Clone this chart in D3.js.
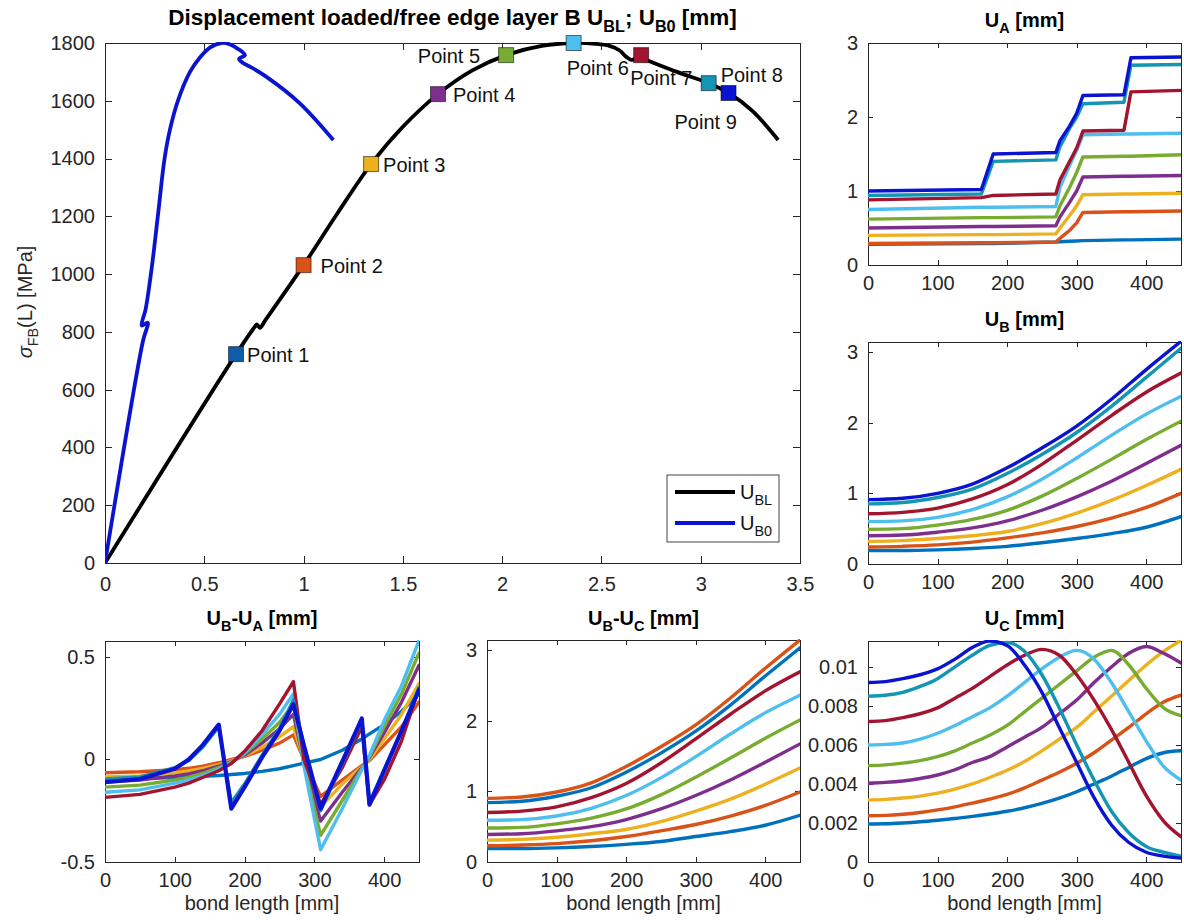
<!DOCTYPE html>
<html><head><meta charset="utf-8">
<script src="https://cdn.jsdelivr.net/npm/d3@7"></script>
<style>
body{margin:0;background:#fff}
text{font-family:"Liberation Sans",Arial,Helvetica,sans-serif}
</style>
</head><body>
<svg id="c" width="1184" height="920"></svg>
<script>
// ---------------- DATA ----------------
const mainXTicks = [0,0.5,1,1.5,2,2.5,3,3.5];
const mainYTicks = [0,200,400,600,800,1000,1200,1400,1600,1800];
const ublX = [0,0.66,0.755,0.765,0.78,0.81,1.0,1.17,1.34,1.50,1.677,1.85,2.02,2.20,2.36,2.47,2.54,2.59,2.625,2.65,2.70,2.73,2.88,3.04,3.14,3.26,3.39];
const ublY = [0,723,818,826,814,843,1031,1210,1381,1510,1623,1705,1758,1790,1800,1797,1790,1775,1752,1742,1748,1740,1700,1661,1627,1565,1464];
const ub0X = [0,0.19,0.215,0.185,0.205,0.235,0.266,0.30,0.327,0.367,0.428,0.478,0.53,0.587,0.63,0.655,0.69,0.705,0.675,0.695,0.73,0.815,0.98,1.15];
const ub0Y = [0,765,832,822,880,1020,1200,1400,1500,1600,1700,1750,1785,1800,1795,1786,1770,1758,1745,1731,1718,1682,1592,1464];
const pointNames = ["Point 1","Point 2","Point 3","Point 4","Point 5","Point 6","Point 7","Point 8","Point 9"];
const pointX = [0.66,1.0,1.34,1.677,2.02,2.36,2.70,3.04,3.14];
const pointY = [723,1031,1381,1623,1758,1800,1758,1661,1627];

const bondTicks = [0,100,200,300,400];
const uaTicks = [0,1,2,3];
const ubTicks = [0,1,2,3];
const ubaTicks = [-0.5,0,0.5];
const ucTicks = [0,0.002,0.004,0.006,0.008,0.01];

const uaX = [0,163,180,270,276,290,300,309,368,378,450];
const uA = [
 [0.28,0.29,0.29,0.31,0.315,0.32,0.325,0.33,0.34,0.34,0.35],
 [0.29,0.30,0.30,0.31,0.36,0.47,0.57,0.71,0.72,0.72,0.73],
 [0.40,0.41,0.41,0.42,0.50,0.67,0.80,0.95,0.96,0.96,0.97],
 [0.50,0.52,0.52,0.53,0.65,0.85,1.00,1.19,1.20,1.20,1.21],
 [0.62,0.64,0.64,0.65,0.80,1.05,1.25,1.46,1.47,1.47,1.49],
 [0.75,0.78,0.78,0.79,1.05,1.35,1.55,1.76,1.77,1.77,1.78],
 [0.88,0.91,0.94,0.96,1.15,1.40,1.58,1.81,1.82,2.34,2.36],
 [0.94,0.96,1.40,1.42,1.60,1.85,2.00,2.18,2.20,2.70,2.71],
 [1.00,1.02,1.50,1.52,1.68,1.88,2.05,2.29,2.30,2.80,2.81]
];

const ubX = [0,50,100,150,200,250,300,350,400,450];
const uB = [
 [0.19,0.19,0.20,0.22,0.25,0.30,0.36,0.43,0.52,0.67],
 [0.24,0.25,0.27,0.31,0.37,0.44,0.53,0.65,0.80,1.00],
 [0.32,0.33,0.36,0.40,0.46,0.57,0.72,0.90,1.11,1.34],
 [0.40,0.41,0.45,0.51,0.61,0.76,0.95,1.17,1.42,1.68],
 [0.49,0.50,0.55,0.63,0.76,0.96,1.21,1.48,1.76,2.02],
 [0.60,0.61,0.66,0.77,0.95,1.20,1.50,1.82,2.12,2.37],
 [0.71,0.73,0.79,0.92,1.12,1.41,1.75,2.10,2.43,2.70],
 [0.85,0.87,0.94,1.06,1.28,1.55,1.86,2.23,2.64,3.05],
 [0.91,0.93,1.00,1.13,1.36,1.64,1.95,2.33,2.75,3.15]
];

const ubcX = [0,50,100,150,200,250,300,350,400,450];
const uBC = [
 [0.19,0.19,0.20,0.22,0.25,0.29,0.36,0.43,0.52,0.66],
 [0.23,0.24,0.26,0.30,0.36,0.44,0.53,0.65,0.80,0.99],
 [0.31,0.32,0.35,0.40,0.46,0.57,0.72,0.89,1.10,1.33],
 [0.39,0.40,0.44,0.50,0.60,0.75,0.94,1.16,1.41,1.67],
 [0.48,0.49,0.54,0.62,0.75,0.95,1.20,1.47,1.75,2.01],
 [0.59,0.60,0.65,0.76,0.94,1.19,1.49,1.81,2.11,2.36],
 [0.70,0.72,0.78,0.91,1.11,1.40,1.74,2.09,2.42,2.69],
 [0.84,0.86,0.93,1.05,1.27,1.54,1.85,2.22,2.63,3.03],
 [0.90,0.92,0.99,1.12,1.35,1.63,1.94,2.32,2.74,3.14]
];

const ubaX = [0,50,100,120,140,163,181,200,225,250,270,285,309,340,368,379,400,425,450];
const uBA = [
 [-0.095,-0.093,-0.088,-0.085,-0.082,-0.078,-0.073,-0.068,-0.058,-0.045,-0.03,-0.018,0.0,0.045,0.10,0.125,0.17,0.235,0.32],
 [-0.065,-0.06,-0.05,-0.043,-0.032,-0.016,0.0,0.015,0.045,0.08,0.12,0.0,-0.18,-0.10,-0.03,-0.005,0.07,0.16,0.28],
 [-0.085,-0.08,-0.065,-0.056,-0.043,-0.025,-0.005,0.018,0.06,0.11,0.16,-0.005,-0.23,-0.12,-0.035,0.0,0.10,0.22,0.37],
 [-0.11,-0.10,-0.08,-0.07,-0.055,-0.033,-0.01,0.022,0.08,0.15,0.22,-0.01,-0.30,-0.16,-0.04,0.01,0.13,0.28,0.46],
 [-0.135,-0.125,-0.10,-0.087,-0.068,-0.04,-0.012,0.028,0.10,0.18,0.27,-0.02,-0.37,-0.20,-0.045,0.015,0.16,0.32,0.52],
 [-0.16,-0.148,-0.115,-0.10,-0.08,-0.047,-0.015,0.032,0.12,0.22,0.32,-0.03,-0.44,-0.24,-0.05,0.02,0.19,0.36,0.58],
 [-0.185,-0.17,-0.135,-0.115,-0.088,-0.055,-0.02,0.04,0.14,0.27,0.38,0.0,-0.22,-0.04,0.16,-0.22,-0.10,0.09,0.35],
 [-0.095,-0.085,-0.04,-0.005,0.06,0.16,-0.21,-0.12,0.02,0.15,0.29,0.07,-0.25,-0.02,0.19,-0.21,-0.05,0.14,0.35],
 [-0.11,-0.095,-0.045,0.0,0.07,0.17,-0.24,-0.135,0.01,0.14,0.27,0.07,-0.24,-0.01,0.20,-0.22,-0.055,0.14,0.34]
];

const ucX = [0,25,50,75,100,125,150,175,200,225,250,275,300,325,350,375,400,425,450];
const uC = [
 [0.00195,0.00196,0.0020,0.00206,0.00214,0.00223,0.00234,0.00246,0.0026,0.00278,0.0030,0.00327,0.0036,0.0040,0.0044,0.00485,0.0053,0.0056,0.0057],
 [0.00237,0.00239,0.00245,0.00254,0.00267,0.00283,0.00302,0.00323,0.00347,0.0038,0.0042,0.0046,0.00506,0.0056,0.00625,0.0069,0.0076,0.0082,0.00855],
 [0.00318,0.00321,0.00328,0.00338,0.00353,0.00374,0.0040,0.00433,0.0047,0.00515,0.0057,0.0063,0.0069,0.0077,0.0085,0.0093,0.0101,0.0108,0.01135],
 [0.00404,0.00408,0.00415,0.00428,0.00446,0.00473,0.0051,0.0054,0.0059,0.0064,0.0069,0.0076,0.0083,0.0092,0.0100,0.0107,0.01105,0.0107,0.0102],
 [0.00494,0.00498,0.00507,0.0052,0.0054,0.0057,0.0061,0.0065,0.0070,0.0077,0.0084,0.0091,0.0098,0.0105,0.01085,0.0101,0.0089,0.0079,0.0075],
 [0.0060,0.00603,0.0061,0.0063,0.0066,0.0070,0.00745,0.0079,0.0085,0.0092,0.0099,0.0105,0.01085,0.0104,0.0092,0.0077,0.0062,0.0049,0.0042],
 [0.0072,0.00725,0.0074,0.0076,0.0079,0.0084,0.0089,0.0095,0.0101,0.0106,0.0109,0.0106,0.0096,0.0083,0.0068,0.0051,0.0034,0.0021,0.0013],
 [0.0085,0.00855,0.0087,0.0090,0.0094,0.0100,0.0106,0.0111,0.01125,0.0108,0.0096,0.0079,0.0060,0.0042,0.0026,0.0015,0.0008,0.0005,0.0003],
 [0.0092,0.00925,0.0094,0.0096,0.0099,0.0104,0.0110,0.01133,0.0111,0.0101,0.0087,0.0069,0.0051,0.0033,0.0019,0.0010,0.0005,0.0003,0.0002]
];

const seriesColors = ["#0072BD","#D95319","#EDB120","#7E2F8E","#77AC30","#4DBEEE","#A2142F","#1395B3","#0A14D0"];
const ubcColors = ["#0072BD","#D95319","#EDB120","#7E2F8E","#77AC30","#4DBEEE","#A2142F","#0072BD","#D95319"];
const pointColors = ["#0F5CAA","#D95319","#EDB120","#7E2F8E","#77AC30","#4DBEEE","#A2142F","#1395B3","#0A14D0"];

// label layout (offsets from marker centre, px)
const labelDx = [11,17,12,15,-26,-7,-11,12,-54];
const labelDy = [8,8,8,8,8,32,30,-1,36];
const labelAnchor = ["start","start","start","start","end","start","start","start","start"];

// ---------------- DRAW ----------------
const svg = d3.select("#c");
svg.append("rect").attr("width",1184).attr("height",920).attr("fill","#fff");
const AX = "#262626";
let clipN = 0;

function rich(sel, parts, size){
  let shift = 0;
  parts.forEach(p => {
    const sub = p[1] === 1, it = p[2] === 1;
    const want = sub ? size*0.32 : 0;
    const t = sel.append("tspan").attr("dy", want - shift)
      .attr("font-size", sub ? size*0.72 : size).text(p[0]);
    if (it) t.attr("font-style","italic");
    shift = want;
  });
}

function panel(p){
  const x = d3.scaleLinear().domain(p.xd).range([p.l,p.r]);
  const y = d3.scaleLinear().domain(p.yd).range([p.b,p.t]);
  const g = svg.append("g");
  const tl = p.tl, fs = p.fs;
  const style = s => {
    s.selectAll("path,line").attr("stroke",AX).attr("stroke-width",1).attr("shape-rendering","crispEdges");
    s.selectAll("text").attr("fill",AX).attr("font-size",fs).attr("font-family",null);
  };
  g.append("g").attr("transform",`translate(0,${p.b})`)
    .call(d3.axisBottom(x).tickValues(p.xt).tickSize(-tl).tickSizeOuter(0).tickPadding(p.xpad).tickFormat(d=>String(d))).call(style);
  g.append("g").attr("transform",`translate(0,${p.t})`)
    .call(d3.axisTop(x).tickValues(p.xt).tickSize(-tl).tickSizeOuter(0).tickFormat("")).call(style);
  g.append("g").attr("transform",`translate(${p.l},0)`)
    .call(d3.axisLeft(y).tickValues(p.yt).tickSize(-tl).tickSizeOuter(0).tickPadding(10).tickFormat(p.yf || (d=>String(d)))).call(style);
  g.append("g").attr("transform",`translate(${p.r},0)`)
    .call(d3.axisRight(y).tickValues(p.yt).tickSize(-tl).tickSizeOuter(0).tickFormat("")).call(style);
  const id = "clip" + (clipN++);
  svg.append("clipPath").attr("id",id).append("rect")
    .attr("x",p.l).attr("y",p.t-1).attr("width",p.r-p.l).attr("height",p.b-p.t+1);
  const lines = svg.append("g").attr("clip-path",`url(#${id})`);
  if (p.title){
    const t = svg.append("text").attr("x",(p.l+p.r)/2).attr("y",p.ty)
      .attr("text-anchor","middle").attr("font-weight","bold").attr("fill","#000");
    rich(t, p.title, p.tfs || 20);
  }
  if (p.xlabel){
    svg.append("text").attr("x",(p.l+p.r)/2).attr("y",p.xly).attr("text-anchor","middle")
      .attr("font-size",20).attr("fill",AX).text(p.xlabel);
  }
  return {x,y,lines};
}

function drawSeries(P, xs, rows, colors, curve, widths){
  rows.forEach((row,i)=>{
    const line = d3.line().x((d,j)=>P.x(xs[j])).y(d=>P.y(d)).curve(curve);
    P.lines.append("path").attr("d",line(row)).attr("fill","none")
      .attr("stroke",colors[i]).attr("stroke-width",widths ? widths[i] : 3.4)
      .attr("stroke-linejoin","round").attr("stroke-linecap","round");
  });
}

// main
const M = panel({l:105,r:800,t:43,b:563,xd:[0,3.5],yd:[0,1800],xt:mainXTicks,yt:mainYTicks,
  tl:7,fs:20,xpad:14,ty:25,tfs:22.5,
  title:[["Displacement loaded/free edge layer B U"],["BL",1],["; U"],["B0",1],[" [mm]"]]});
const mline = d3.line().x(d=>M.x(d[0])).y(d=>M.y(d[1])).curve(d3.curveCatmullRom.alpha(0.5));
M.lines.append("path").attr("d",mline(ublX.map((v,i)=>[v,ublY[i]])))
  .attr("fill","none").attr("stroke","#000").attr("stroke-width",3.8).attr("stroke-linejoin","round");
M.lines.append("path").attr("d",mline(ub0X.map((v,i)=>[v,ub0Y[i]])))
  .attr("fill","none").attr("stroke","#0A14D0").attr("stroke-width",3.8).attr("stroke-linejoin","round");

// y label
const yl = svg.append("text").attr("transform","translate(32,302) rotate(-90)")
  .attr("text-anchor","middle").attr("fill",AX);
rich(yl, [["σ",0,1],["FB",1],["(L) [MPa]"]], 20);

// markers + labels
pointX.forEach((px,i)=>{
  const cx = M.x(px), cy = M.y(pointY[i]);
  svg.append("rect").attr("x",cx-7.5).attr("y",cy-7.5).attr("width",15).attr("height",15)
    .attr("fill",pointColors[i]).attr("stroke","rgba(0,0,0,0.55)").attr("stroke-width",1);
  svg.append("text").attr("x",cx+labelDx[i]).attr("y",cy+labelDy[i]).attr("text-anchor",labelAnchor[i])
    .attr("font-size",20).attr("fill","#111").text(pointNames[i]);
});

// legend
const lg = svg.append("g");
lg.append("rect").attr("x",667).attr("y",475).attr("width",112).attr("height",67)
  .attr("fill","#fff").attr("stroke","#444").attr("stroke-width",1);
[["BL","#000",492],["B0","#0A14D0",523]].forEach(e=>{
  lg.append("line").attr("x1",675).attr("x2",735).attr("y1",e[2]).attr("y2",e[2])
    .attr("stroke",e[1]).attr("stroke-width",3.8);
  const t = lg.append("text").attr("x",740).attr("y",e[2]+7).attr("fill","#111");
  rich(t, [["U"],[e[0],1]], 20);
});

// U_A
const PA = panel({l:868,r:1181,t:43,b:265,xd:[0,450],yd:[0,3],xt:bondTicks,yt:uaTicks,
  tl:5,fs:20,xpad:11,ty:27,title:[["U"],["A",1],[" [mm]"]]});
drawSeries(PA, uaX, uA, seriesColors, d3.curveLinear);

// U_B
const PB = panel({l:868,r:1181,t:342,b:564,xd:[0,450],yd:[0,3.14],xt:bondTicks,yt:ubTicks,
  tl:5,fs:20,xpad:11,ty:326,title:[["U"],["B",1],[" [mm]"]]});
drawSeries(PB, ubX, uB, seriesColors, d3.curveMonotoneX);

// U_B - U_A
const PBA = panel({l:105,r:419,t:641,b:862,xd:[0,450],yd:[-0.5,0.578],xt:bondTicks,yt:ubaTicks,
  tl:5,fs:20,xpad:11,ty:625,xlabel:"bond length [mm]",xly:910,
  title:[["U"],["B",1],["-U"],["A",1],[" [mm]"]]});
drawSeries(PBA, ubaX, uBA, seriesColors, d3.curveLinear, [3.4,3.4,3.4,3.4,3.4,3.4,3.4,3.4,4.2]);

// U_B - U_C
const PBC = panel({l:487,r:800,t:640,b:862,xd:[0,450],yd:[0,3.14],xt:bondTicks,yt:ubTicks,
  tl:5,fs:20,xpad:11,ty:625,xlabel:"bond length [mm]",xly:910,
  title:[["U"],["B",1],["-U"],["C",1],[" [mm]"]]});
drawSeries(PBC, ubcX, uBC, ubcColors, d3.curveMonotoneX);

// U_C
const PC = panel({l:868,r:1181,t:641,b:862,xd:[0,450],yd:[0,0.01133],xt:bondTicks,yt:ucTicks,
  tl:5,fs:20,xpad:11,ty:625,xlabel:"bond length [mm]",xly:910,
  yf:d=>d===0?"0":String(+d.toFixed(3)),
  title:[["U"],["C",1],[" [mm]"]]});
drawSeries(PC, ucX, uC, seriesColors, d3.curveMonotoneX);
</script>
</body></html>
